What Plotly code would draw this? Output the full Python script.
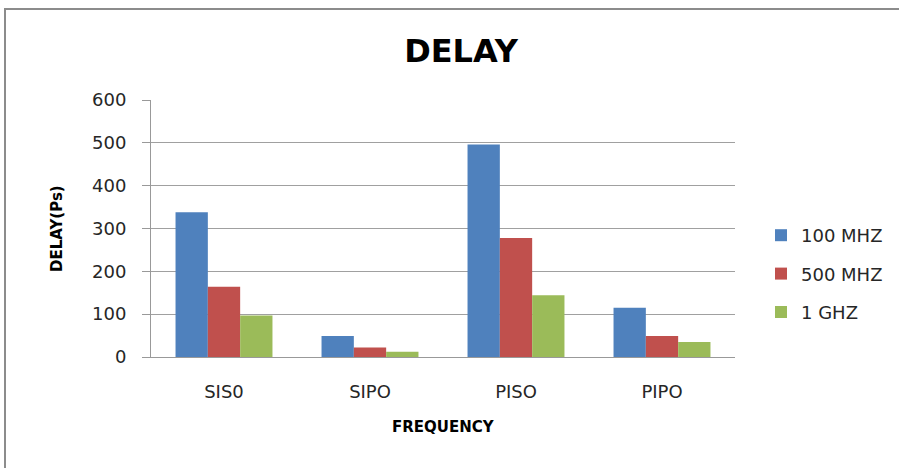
import plotly.graph_objects as go

categories = ["SIS0", "SIPO", "PISO", "PIPO"]
series_names = ["100 MHZ", "500 MHZ", "1 GHZ"]
mhz100 = [338, 49, 496, 115]
mhz500 = [164, 22, 278, 49]
ghz1 = [97, 12, 144, 35]
y_ticks = [0, 100, 200, 300, 400, 500, 600]

colors = ["#4F81BD", "#C0504D", "#9BBB59"]
FONT = "DejaVu Sans"

fig = go.Figure()
for i, (name, vals) in enumerate(zip(series_names, [mhz100, mhz500, ghz1])):
    fig.add_trace(go.Bar(
        x=categories, y=vals, name=name,
        marker=dict(color=colors[i], line=dict(width=0)),
        legendgroup=name,
    ))

W, H = 899, 468
L, R, T, B = 151, 164, 100, 111
pw = W - L - R
ph = H - T - B

def px_x(x):
    return (x - L) / pw

def px_y(y):
    return (H - B - y) / ph

fig.update_layout(
    width=W, height=H,
    margin=dict(l=L, r=R, t=T, b=B, autoexpand=False),
    paper_bgcolor="white", plot_bgcolor="white",
    barmode="group", bargap=0.336, bargroupgap=0,
    font=dict(family=FONT, size=18, color="#262626"),
    title=dict(text="<b>DELAY</b>", x=px_x(461), xref="paper", xanchor="center",
               y=1 - 50.5 / H, yref="container", yanchor="middle",
               font=dict(family=FONT, size=32, color="black")),
    showlegend=True,
    legend=dict(x=px_x(761), xanchor="left", y=px_y(217), yanchor="top",
                traceorder="grouped", tracegroupgap=12,
                font=dict(family=FONT, size=18, color="#262626"),
                bgcolor="rgba(0,0,0,0)"),
    xaxis=dict(showgrid=False, showline=True, linecolor="#999999", linewidth=1,
               ticks="", ticklabelstandoff=18, tickfont=dict(size=18)),
    yaxis=dict(range=[0, 600], tickvals=y_ticks, showgrid=True, gridcolor="#a0a0a0",
               gridwidth=1, showline=True, linecolor="#999999", linewidth=1,
               ticks="outside", ticklen=8, tickcolor="#999999",
               ticklabelstandoff=12, tickfont=dict(size=18), zeroline=False),
    annotations=[
        dict(text="<b>DELAY(Ps)</b>", xref="paper", yref="paper", x=px_x(56.5), y=0.5,
             xanchor="center", yanchor="middle", textangle=-90, showarrow=False,
             font=dict(family=FONT, size=15, color="black")),
        dict(text="<b>FREQUENCY</b>", xref="paper", yref="paper", x=px_x(443), y=px_y(427),
             xanchor="center", yanchor="middle", showarrow=False,
             font=dict(family=FONT, size=15, color="black")),
    ],
    shapes=[
        dict(type="rect", xref="paper", yref="paper", x0=px_x(5), x1=px_x(1200),
             y0=px_y(700), y1=px_y(9), line=dict(color="#8c8c8c", width=2),
             fillcolor="rgba(0,0,0,0)", layer="below"),
    ],
)

fig.write_html("out.html", config={"displayModeBar": False},
               post_script="document.body.style.margin='0';document.body.style.overflow='hidden';")
